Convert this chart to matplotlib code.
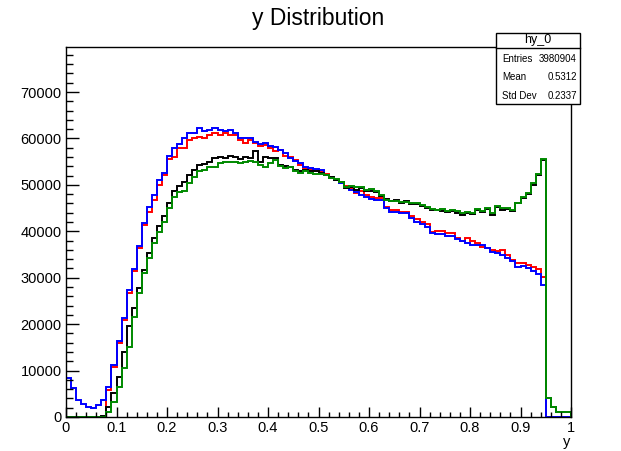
import numpy as np
import matplotlib
matplotlib.use("Agg")
import matplotlib.pyplot as plt
from matplotlib.patches import Rectangle
from matplotlib.lines import Line2D
from matplotlib.ticker import MultipleLocator

plt.rcParams['font.family'] = ['Liberation Sans', 'DejaVu Sans']

edges = np.linspace(0.0, 1.0, 101)

red_counts = [
    0, 0, 0, 0, 0, 0, 0, 0, 5800, 10800,
    15900, 21000, 26700, 31500, 36400, 41400, 44200, 46800, 50000, 52100,
    55500, 56100, 57900, 57900, 59700, 60050, 60400, 60050, 60800, 61100,
    60800, 61100, 60800, 60800, 59700, 59000, 59700, 59000, 58300, 58600,
    58000, 57200, 57500, 56300, 55900, 55400, 54300, 53600, 53200, 52900,
    52900, 52300, 51400, 51100, 50500, 49700, 49300, 48200, 48600, 47800,
    47300, 47100, 47100, 45300, 44500, 44500, 44250, 44250, 43200, 42600,
    42100, 41600, 39900, 40100, 40100, 39600, 39600, 38500, 38000, 38500,
    38000, 37400, 36700, 36500, 36000, 35700, 36000, 34900, 33800, 33100,
    33200, 32800, 32400, 31800, 30200, 0, 0, 0, 0, 0]

blue_counts = [
    8500, 6200, 3700, 2800, 2200, 1900, 2600, 3700, 6500, 11200,
    16400, 21400, 27300, 31900, 36800, 41800, 45300, 47800, 51000, 52600,
    56300, 57900, 58800, 60000, 61100, 61100, 62200, 61500, 61800, 62300,
    61800, 61500, 61800, 61100, 60200, 60000, 60000, 59300, 58800, 59000,
    58300, 58260, 57540, 56800, 55700, 55200, 54700, 53900, 53600, 53400,
    53200, 52150, 51400, 51000, 50500, 49600, 48900, 48500, 47800, 47300,
    46900, 46760, 46700, 44970, 44250, 44250, 43900, 43900, 42800, 42100,
    41600, 41000, 39600, 39400, 39400, 38900, 38900, 38300, 38000, 37400,
    37100, 37000, 37000, 36300, 35600, 35300, 35000, 34200, 33500, 32400,
    32500, 32000, 31500, 30900, 28500, 0, 0, 0, 0, 0]

black_counts = [
    0, 0, 0, 0, 0, 0, 0, 300, 2200, 5200,
    8700, 14100, 19600, 23500, 27800, 31700, 35300, 38600, 41200, 43200,
    46100, 48600, 49800, 50700, 52150, 53200, 54200, 54500, 55000, 55700,
    56100, 55700, 56300, 55900, 55600, 56100, 55700, 57300, 55000, 56100,
    55700, 55700, 54300, 54100, 53900, 53200, 52900, 53200, 52900, 52900,
    52500, 52100, 51600, 51100, 50700, 49300, 49500, 48900, 49300, 48600,
    48600, 48400, 47600, 46900, 46500, 46700, 46200, 46500, 45900, 45800,
    45500, 45000, 44500, 44600, 44400, 44100, 44400, 44000, 43600, 44000,
    43700, 44500, 44200, 44700, 43600, 45200, 44600, 44700, 44300, 46000,
    47100, 48000, 50000, 52100, 55300, 4000, 2200, 1150, 1150, 1150]

green_counts = [
    0, 0, 0, 0, 0, 0, 0, 0, 1100, 3300,
    6400, 10500, 15100, 21600, 26700, 31000, 34300, 37500, 39900, 42100,
    45000, 47300, 48500, 48700, 50400, 51800, 52900, 53200, 53900, 53900,
    54800, 55000, 55000, 55000, 54700, 55000, 55200, 55000, 54300, 53900,
    54700, 55400, 54100, 53600, 53900, 52900, 52500, 52900, 52500, 52300,
    52400, 52150, 51400, 51200, 50700, 49600, 49800, 49500, 49600, 48900,
    49100, 48600, 47800, 46800, 46600, 46600, 46400, 46300, 46000, 46000,
    45700, 45200, 44800, 44500, 44700, 44300, 44600, 44300, 43900, 44250,
    43900, 44750, 44400, 44970, 44000, 45500, 44970, 44970, 44600, 46200,
    47400, 48200, 50300, 52400, 55600, 4000, 2200, 1150, 1150, 1150]

title = "y Distribution"
stats_name = "hy_0"
stats_labels = ["Entries", "Mean", "Std Dev"]
stats_values = ["3980904", "0.5312", "0.2337"]

W, H = 621, 451
fig = plt.figure(figsize=(W / 100, H / 100), dpi=100)
L, R, B, T = 66, 571, 417, 47
ax = fig.add_axes([L / W, 1 - B / H, (R - L) / W, (B - T) / H])

lw = 1.4
ax.stairs(red_counts, edges, color='#ff0000', lw=lw)
ax.stairs(blue_counts, edges, color='#0000ff', lw=lw)
ax.stairs(black_counts, edges, color='#000000', lw=lw)
ax.stairs(green_counts, edges, color='#008a00', lw=lw)

ax.set_xlim(0, 1)
ax.set_ylim(0, 79700)
ax.xaxis.set_major_locator(MultipleLocator(0.1))
ax.xaxis.set_minor_locator(MultipleLocator(0.02))
ax.yaxis.set_major_locator(MultipleLocator(10000))
ax.yaxis.set_minor_locator(MultipleLocator(2000))
ax.xaxis.set_major_formatter(plt.FuncFormatter(lambda v, p: "0" if abs(v) < 1e-9 else ("1" if abs(v - 1) < 1e-9 else f"{v:.1f}")))
ax.yaxis.set_major_formatter(plt.FuncFormatter(lambda v, p: f"{int(round(v))}"))
ax.tick_params(axis='both', which='both', direction='in', top=False, right=False, labelsize=10.5, colors='black')
ax.tick_params(axis='y', which='major', length=9, width=1.0, pad=3)
ax.tick_params(axis='y', which='minor', length=5, width=1.0)
ax.tick_params(axis='x', which='major', length=7, width=1.0, pad=3)
ax.tick_params(axis='x', which='minor', length=3.6, width=1.0)
for s in ax.spines.values():
    s.set_linewidth(1.0)

fig.text(318 / W, 1 - 18 / H, title, ha='center', va='center', fontsize=16.5)
fig.text(567 / W, 1 - 442 / H, "y", ha='center', va='center', fontsize=10.5)

# stats box
bx0, bx1, by0, by1 = 496, 580, 33, 104
fig.add_artist(Rectangle((bx0 / W, 1 - by1 / H), (bx1 - bx0) / W, (by1 - by0) / H,
                         transform=fig.transFigure, facecolor='white', edgecolor='black', lw=1.0, zorder=5))
fig.add_artist(Line2D([bx0 / W, bx1 / W], [1 - 48 / H, 1 - 48 / H], transform=fig.transFigure,
                      color='black', lw=1.0, zorder=6))
fig.text((bx0 + bx1) / 2 / W, 1 - 40.5 / H, stats_name, ha='center', va='center', fontsize=9, zorder=7)
for i, (lab, val) in enumerate(zip(stats_labels, stats_values)):
    yy = 1 - (59 + 18.5 * i) / H
    fig.text(502 / W, yy, lab, ha='left', va='center', fontsize=7, zorder=7)
    fig.text(577 / W, yy, val, ha='right', va='center', fontsize=7, zorder=7)

fig.savefig("out.png", dpi=100)
